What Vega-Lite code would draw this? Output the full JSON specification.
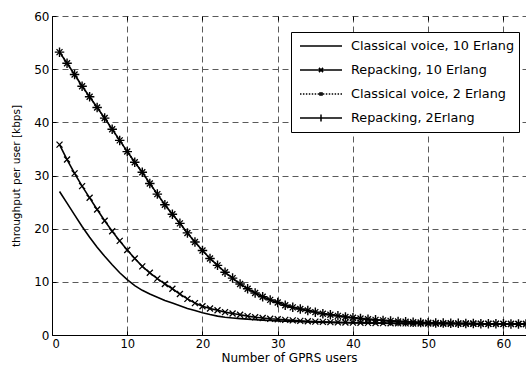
{
  "$schema": "https://vega.github.io/schema/vega-lite/v6.json",
  "autosize": "none",
  "width": 474,
  "height": 319,
  "padding": {"left": 52, "top": 16, "right": 0, "bottom": 31},
  "background": "white",
  "config": {
    "view": {"stroke": null},
    "axis": {
      "labelFont": "DejaVu Sans", "labelFontSize": 12, "labelColor": "black",
      "titleFont": "DejaVu Sans", "titleFontSize": 10.5, "titleFontWeight": "normal", "titleColor": "black",
      "domainColor": "black", "tickColor": "black", "gridColor": "#5a5a5a", "gridDash": [6, 4], "gridOpacity": 1
    }
  },
  "datasets": {
    "curves": [
      {"s":"Classical voice, 10 Erlang","x":1,"y":27.0},{"s":"Classical voice, 10 Erlang","x":2,"y":24.8},{"s":"Classical voice, 10 Erlang","x":3,"y":22.6},{"s":"Classical voice, 10 Erlang","x":4,"y":20.4},{"s":"Classical voice, 10 Erlang","x":5,"y":18.4},{"s":"Classical voice, 10 Erlang","x":6,"y":16.5},{"s":"Classical voice, 10 Erlang","x":7,"y":14.8},{"s":"Classical voice, 10 Erlang","x":8,"y":13.2},{"s":"Classical voice, 10 Erlang","x":9,"y":11.7},{"s":"Classical voice, 10 Erlang","x":10,"y":10.4},
      {"s":"Classical voice, 10 Erlang","x":11,"y":9.3},{"s":"Classical voice, 10 Erlang","x":12,"y":8.4},{"s":"Classical voice, 10 Erlang","x":13,"y":7.7},{"s":"Classical voice, 10 Erlang","x":14,"y":7.1},{"s":"Classical voice, 10 Erlang","x":15,"y":6.5},{"s":"Classical voice, 10 Erlang","x":16,"y":6.0},{"s":"Classical voice, 10 Erlang","x":17,"y":5.5},{"s":"Classical voice, 10 Erlang","x":18,"y":5.0},{"s":"Classical voice, 10 Erlang","x":19,"y":4.6},{"s":"Classical voice, 10 Erlang","x":20,"y":4.2},
      {"s":"Classical voice, 10 Erlang","x":21,"y":3.85},{"s":"Classical voice, 10 Erlang","x":22,"y":3.55},{"s":"Classical voice, 10 Erlang","x":23,"y":3.35},{"s":"Classical voice, 10 Erlang","x":24,"y":3.2},{"s":"Classical voice, 10 Erlang","x":25,"y":3.08},{"s":"Classical voice, 10 Erlang","x":26,"y":2.98},{"s":"Classical voice, 10 Erlang","x":27,"y":2.88},{"s":"Classical voice, 10 Erlang","x":28,"y":2.8},{"s":"Classical voice, 10 Erlang","x":29,"y":2.72},{"s":"Classical voice, 10 Erlang","x":30,"y":2.65},
      {"s":"Classical voice, 10 Erlang","x":31,"y":2.6},{"s":"Classical voice, 10 Erlang","x":32,"y":2.55},{"s":"Classical voice, 10 Erlang","x":33,"y":2.5},{"s":"Classical voice, 10 Erlang","x":34,"y":2.46},{"s":"Classical voice, 10 Erlang","x":35,"y":2.42},{"s":"Classical voice, 10 Erlang","x":36,"y":2.38},{"s":"Classical voice, 10 Erlang","x":37,"y":2.35},{"s":"Classical voice, 10 Erlang","x":38,"y":2.32},{"s":"Classical voice, 10 Erlang","x":39,"y":2.3},{"s":"Classical voice, 10 Erlang","x":40,"y":2.28},
      {"s":"Classical voice, 10 Erlang","x":41,"y":2.26},{"s":"Classical voice, 10 Erlang","x":42,"y":2.24},{"s":"Classical voice, 10 Erlang","x":43,"y":2.22},{"s":"Classical voice, 10 Erlang","x":44,"y":2.2},{"s":"Classical voice, 10 Erlang","x":45,"y":2.19},{"s":"Classical voice, 10 Erlang","x":46,"y":2.18},{"s":"Classical voice, 10 Erlang","x":47,"y":2.17},{"s":"Classical voice, 10 Erlang","x":48,"y":2.16},{"s":"Classical voice, 10 Erlang","x":49,"y":2.15},{"s":"Classical voice, 10 Erlang","x":50,"y":2.14},
      {"s":"Classical voice, 10 Erlang","x":51,"y":2.13},{"s":"Classical voice, 10 Erlang","x":52,"y":2.12},{"s":"Classical voice, 10 Erlang","x":53,"y":2.12},{"s":"Classical voice, 10 Erlang","x":54,"y":2.11},{"s":"Classical voice, 10 Erlang","x":55,"y":2.11},{"s":"Classical voice, 10 Erlang","x":56,"y":2.1},{"s":"Classical voice, 10 Erlang","x":57,"y":2.1},{"s":"Classical voice, 10 Erlang","x":58,"y":2.09},{"s":"Classical voice, 10 Erlang","x":59,"y":2.09},{"s":"Classical voice, 10 Erlang","x":60,"y":2.09},
      {"s":"Classical voice, 10 Erlang","x":61,"y":2.08},{"s":"Classical voice, 10 Erlang","x":62,"y":2.08},{"s":"Classical voice, 10 Erlang","x":63,"y":2.08},

      {"s":"Repacking, 10 Erlang","x":1,"y":35.8},{"s":"Repacking, 10 Erlang","x":2,"y":33.0},{"s":"Repacking, 10 Erlang","x":3,"y":30.4},{"s":"Repacking, 10 Erlang","x":4,"y":28.0},{"s":"Repacking, 10 Erlang","x":5,"y":25.8},{"s":"Repacking, 10 Erlang","x":6,"y":23.6},{"s":"Repacking, 10 Erlang","x":7,"y":21.5},{"s":"Repacking, 10 Erlang","x":8,"y":19.5},{"s":"Repacking, 10 Erlang","x":9,"y":17.7},{"s":"Repacking, 10 Erlang","x":10,"y":16.0},
      {"s":"Repacking, 10 Erlang","x":11,"y":14.4},{"s":"Repacking, 10 Erlang","x":12,"y":12.9},{"s":"Repacking, 10 Erlang","x":13,"y":11.7},{"s":"Repacking, 10 Erlang","x":14,"y":10.6},{"s":"Repacking, 10 Erlang","x":15,"y":9.6},{"s":"Repacking, 10 Erlang","x":16,"y":8.7},{"s":"Repacking, 10 Erlang","x":17,"y":7.7},{"s":"Repacking, 10 Erlang","x":18,"y":6.8},{"s":"Repacking, 10 Erlang","x":19,"y":6.0},{"s":"Repacking, 10 Erlang","x":20,"y":5.4},
      {"s":"Repacking, 10 Erlang","x":21,"y":5.0},{"s":"Repacking, 10 Erlang","x":22,"y":4.65},{"s":"Repacking, 10 Erlang","x":23,"y":4.3},{"s":"Repacking, 10 Erlang","x":24,"y":4.05},{"s":"Repacking, 10 Erlang","x":25,"y":3.8},{"s":"Repacking, 10 Erlang","x":26,"y":3.55},{"s":"Repacking, 10 Erlang","x":27,"y":3.35},{"s":"Repacking, 10 Erlang","x":28,"y":3.2},{"s":"Repacking, 10 Erlang","x":29,"y":3.05},{"s":"Repacking, 10 Erlang","x":30,"y":2.95},
      {"s":"Repacking, 10 Erlang","x":31,"y":2.85},{"s":"Repacking, 10 Erlang","x":32,"y":2.75},{"s":"Repacking, 10 Erlang","x":33,"y":2.65},{"s":"Repacking, 10 Erlang","x":34,"y":2.58},{"s":"Repacking, 10 Erlang","x":35,"y":2.52},{"s":"Repacking, 10 Erlang","x":36,"y":2.47},{"s":"Repacking, 10 Erlang","x":37,"y":2.42},{"s":"Repacking, 10 Erlang","x":38,"y":2.38},{"s":"Repacking, 10 Erlang","x":39,"y":2.35},{"s":"Repacking, 10 Erlang","x":40,"y":2.32},
      {"s":"Repacking, 10 Erlang","x":41,"y":2.3},{"s":"Repacking, 10 Erlang","x":42,"y":2.28},{"s":"Repacking, 10 Erlang","x":43,"y":2.26},{"s":"Repacking, 10 Erlang","x":44,"y":2.24},{"s":"Repacking, 10 Erlang","x":45,"y":2.22},{"s":"Repacking, 10 Erlang","x":46,"y":2.2},{"s":"Repacking, 10 Erlang","x":47,"y":2.18},{"s":"Repacking, 10 Erlang","x":48,"y":2.17},{"s":"Repacking, 10 Erlang","x":49,"y":2.16},{"s":"Repacking, 10 Erlang","x":50,"y":2.15},
      {"s":"Repacking, 10 Erlang","x":51,"y":2.14},{"s":"Repacking, 10 Erlang","x":52,"y":2.13},{"s":"Repacking, 10 Erlang","x":53,"y":2.12},{"s":"Repacking, 10 Erlang","x":54,"y":2.12},{"s":"Repacking, 10 Erlang","x":55,"y":2.11},{"s":"Repacking, 10 Erlang","x":56,"y":2.11},{"s":"Repacking, 10 Erlang","x":57,"y":2.1},{"s":"Repacking, 10 Erlang","x":58,"y":2.1},{"s":"Repacking, 10 Erlang","x":59,"y":2.09},{"s":"Repacking, 10 Erlang","x":60,"y":2.09},
      {"s":"Repacking, 10 Erlang","x":61,"y":2.08},{"s":"Repacking, 10 Erlang","x":62,"y":2.08},{"s":"Repacking, 10 Erlang","x":63,"y":2.08},

      {"s":"Classical voice, 2 Erlang","x":1,"y":53.2},{"s":"Classical voice, 2 Erlang","x":2,"y":51.1},{"s":"Classical voice, 2 Erlang","x":3,"y":49.0},{"s":"Classical voice, 2 Erlang","x":4,"y":46.8},{"s":"Classical voice, 2 Erlang","x":5,"y":44.8},{"s":"Classical voice, 2 Erlang","x":6,"y":42.8},{"s":"Classical voice, 2 Erlang","x":7,"y":40.8},{"s":"Classical voice, 2 Erlang","x":8,"y":38.7},{"s":"Classical voice, 2 Erlang","x":9,"y":36.6},{"s":"Classical voice, 2 Erlang","x":10,"y":34.5},
      {"s":"Classical voice, 2 Erlang","x":11,"y":32.5},{"s":"Classical voice, 2 Erlang","x":12,"y":30.6},{"s":"Classical voice, 2 Erlang","x":13,"y":28.5},{"s":"Classical voice, 2 Erlang","x":14,"y":26.5},{"s":"Classical voice, 2 Erlang","x":15,"y":24.5},{"s":"Classical voice, 2 Erlang","x":16,"y":22.7},{"s":"Classical voice, 2 Erlang","x":17,"y":21.0},{"s":"Classical voice, 2 Erlang","x":18,"y":19.2},{"s":"Classical voice, 2 Erlang","x":19,"y":17.5},{"s":"Classical voice, 2 Erlang","x":20,"y":15.9},
      {"s":"Classical voice, 2 Erlang","x":21,"y":14.4},{"s":"Classical voice, 2 Erlang","x":22,"y":13.1},{"s":"Classical voice, 2 Erlang","x":23,"y":11.8},{"s":"Classical voice, 2 Erlang","x":24,"y":10.7},{"s":"Classical voice, 2 Erlang","x":25,"y":9.6},{"s":"Classical voice, 2 Erlang","x":26,"y":8.7},{"s":"Classical voice, 2 Erlang","x":27,"y":7.9},{"s":"Classical voice, 2 Erlang","x":28,"y":7.2},{"s":"Classical voice, 2 Erlang","x":29,"y":6.6},{"s":"Classical voice, 2 Erlang","x":30,"y":6.1},
      {"s":"Classical voice, 2 Erlang","x":31,"y":5.6},{"s":"Classical voice, 2 Erlang","x":32,"y":5.2},{"s":"Classical voice, 2 Erlang","x":33,"y":4.9},{"s":"Classical voice, 2 Erlang","x":34,"y":4.6},{"s":"Classical voice, 2 Erlang","x":35,"y":4.3},{"s":"Classical voice, 2 Erlang","x":36,"y":4.0},{"s":"Classical voice, 2 Erlang","x":37,"y":3.8},{"s":"Classical voice, 2 Erlang","x":38,"y":3.6},{"s":"Classical voice, 2 Erlang","x":39,"y":3.4},{"s":"Classical voice, 2 Erlang","x":40,"y":3.25},
      {"s":"Classical voice, 2 Erlang","x":41,"y":3.1},{"s":"Classical voice, 2 Erlang","x":42,"y":2.95},{"s":"Classical voice, 2 Erlang","x":43,"y":2.85},{"s":"Classical voice, 2 Erlang","x":44,"y":2.75},{"s":"Classical voice, 2 Erlang","x":45,"y":2.65},{"s":"Classical voice, 2 Erlang","x":46,"y":2.55},{"s":"Classical voice, 2 Erlang","x":47,"y":2.48},{"s":"Classical voice, 2 Erlang","x":48,"y":2.42},{"s":"Classical voice, 2 Erlang","x":49,"y":2.36},{"s":"Classical voice, 2 Erlang","x":50,"y":2.3},
      {"s":"Classical voice, 2 Erlang","x":51,"y":2.27},{"s":"Classical voice, 2 Erlang","x":52,"y":2.24},{"s":"Classical voice, 2 Erlang","x":53,"y":2.21},{"s":"Classical voice, 2 Erlang","x":54,"y":2.19},{"s":"Classical voice, 2 Erlang","x":55,"y":2.17},{"s":"Classical voice, 2 Erlang","x":56,"y":2.15},{"s":"Classical voice, 2 Erlang","x":57,"y":2.13},{"s":"Classical voice, 2 Erlang","x":58,"y":2.12},{"s":"Classical voice, 2 Erlang","x":59,"y":2.11},{"s":"Classical voice, 2 Erlang","x":60,"y":2.1},
      {"s":"Classical voice, 2 Erlang","x":61,"y":2.09},{"s":"Classical voice, 2 Erlang","x":62,"y":2.08},{"s":"Classical voice, 2 Erlang","x":63,"y":2.08},

      {"s":"Repacking, 2Erlang","x":1,"y":53.2},{"s":"Repacking, 2Erlang","x":2,"y":51.1},{"s":"Repacking, 2Erlang","x":3,"y":49.0},{"s":"Repacking, 2Erlang","x":4,"y":46.8},{"s":"Repacking, 2Erlang","x":5,"y":44.8},{"s":"Repacking, 2Erlang","x":6,"y":42.8},{"s":"Repacking, 2Erlang","x":7,"y":40.8},{"s":"Repacking, 2Erlang","x":8,"y":38.7},{"s":"Repacking, 2Erlang","x":9,"y":36.6},{"s":"Repacking, 2Erlang","x":10,"y":34.5},
      {"s":"Repacking, 2Erlang","x":11,"y":32.5},{"s":"Repacking, 2Erlang","x":12,"y":30.6},{"s":"Repacking, 2Erlang","x":13,"y":28.5},{"s":"Repacking, 2Erlang","x":14,"y":26.5},{"s":"Repacking, 2Erlang","x":15,"y":24.5},{"s":"Repacking, 2Erlang","x":16,"y":22.7},{"s":"Repacking, 2Erlang","x":17,"y":21.0},{"s":"Repacking, 2Erlang","x":18,"y":19.2},{"s":"Repacking, 2Erlang","x":19,"y":17.5},{"s":"Repacking, 2Erlang","x":20,"y":15.9},
      {"s":"Repacking, 2Erlang","x":21,"y":14.4},{"s":"Repacking, 2Erlang","x":22,"y":13.1},{"s":"Repacking, 2Erlang","x":23,"y":11.8},{"s":"Repacking, 2Erlang","x":24,"y":10.7},{"s":"Repacking, 2Erlang","x":25,"y":9.6},{"s":"Repacking, 2Erlang","x":26,"y":8.7},{"s":"Repacking, 2Erlang","x":27,"y":7.9},{"s":"Repacking, 2Erlang","x":28,"y":7.2},{"s":"Repacking, 2Erlang","x":29,"y":6.6},{"s":"Repacking, 2Erlang","x":30,"y":6.1},
      {"s":"Repacking, 2Erlang","x":31,"y":5.6},{"s":"Repacking, 2Erlang","x":32,"y":5.2},{"s":"Repacking, 2Erlang","x":33,"y":4.9},{"s":"Repacking, 2Erlang","x":34,"y":4.6},{"s":"Repacking, 2Erlang","x":35,"y":4.3},{"s":"Repacking, 2Erlang","x":36,"y":4.0},{"s":"Repacking, 2Erlang","x":37,"y":3.8},{"s":"Repacking, 2Erlang","x":38,"y":3.6},{"s":"Repacking, 2Erlang","x":39,"y":3.4},{"s":"Repacking, 2Erlang","x":40,"y":3.25},
      {"s":"Repacking, 2Erlang","x":41,"y":3.1},{"s":"Repacking, 2Erlang","x":42,"y":2.95},{"s":"Repacking, 2Erlang","x":43,"y":2.85},{"s":"Repacking, 2Erlang","x":44,"y":2.75},{"s":"Repacking, 2Erlang","x":45,"y":2.65},{"s":"Repacking, 2Erlang","x":46,"y":2.55},{"s":"Repacking, 2Erlang","x":47,"y":2.48},{"s":"Repacking, 2Erlang","x":48,"y":2.42},{"s":"Repacking, 2Erlang","x":49,"y":2.36},{"s":"Repacking, 2Erlang","x":50,"y":2.3},
      {"s":"Repacking, 2Erlang","x":51,"y":2.27},{"s":"Repacking, 2Erlang","x":52,"y":2.24},{"s":"Repacking, 2Erlang","x":53,"y":2.21},{"s":"Repacking, 2Erlang","x":54,"y":2.19},{"s":"Repacking, 2Erlang","x":55,"y":2.17},{"s":"Repacking, 2Erlang","x":56,"y":2.15},{"s":"Repacking, 2Erlang","x":57,"y":2.13},{"s":"Repacking, 2Erlang","x":58,"y":2.12},{"s":"Repacking, 2Erlang","x":59,"y":2.11},{"s":"Repacking, 2Erlang","x":60,"y":2.1},
      {"s":"Repacking, 2Erlang","x":61,"y":2.09},{"s":"Repacking, 2Erlang","x":62,"y":2.08},{"s":"Repacking, 2Erlang","x":63,"y":2.08}
    ]
  },
  "data": {"name": "curves"},
  "resolve": {"axis": {"x": "independent"}},
  "layer": [
    {
      "transform": [{"filter": "datum.s === 'Classical voice, 2 Erlang'"}],
      "mark": {"type": "line", "color": "black", "strokeWidth": 1.5, "strokeDash": [1.5, 2], "clip": true},
      "encoding": {
        "x": {"field": "x", "type": "quantitative", "scale": {"domain": [0, 63], "nice": false, "zero": false},
          "axis": {"orient": "bottom", "values": [0, 10, 20, 30, 40, 50, 60], "grid": true, "tickSize": -4, "labelPadding": 7, "labelFontSize": 11.5, "title": "Number of GPRS users", "titleFontSize": 12, "titlePadding": 3}},
        "y": {"field": "y", "type": "quantitative", "scale": {"domain": [0, 60], "nice": false},
          "axis": {"values": [0, 10, 20, 30, 40, 50, 60], "grid": true, "tickSize": -4, "labelPadding": 7, "title": "throughput per user [kbps]", "titlePadding": 12}}
      }
    },
    {
      "transform": [{"filter": "datum.s !== 'Classical voice, 2 Erlang'"}],
      "mark": {"type": "line", "color": "black", "strokeWidth": 1.6, "clip": true},
      "encoding": {
        "x": {"field": "x", "type": "quantitative", "axis": {"orient": "top", "grid": false, "labels": false, "domain": false, "values": [0, 10, 20, 30, 40, 50, 60], "tickSize": -4, "title": null}},
        "y": {"field": "y", "type": "quantitative"},
        "detail": {"field": "s"}
      }
    },
    {
      "transform": [{"filter": "datum.s === 'Repacking, 10 Erlang'"}],
      "mark": {"type": "point", "shape": "M-1,-1L1,1M-1,1L1,-1", "size": 36, "filled": false, "stroke": "black", "strokeWidth": 1.3, "opacity": 1},
      "encoding": {
        "x": {"field": "x", "type": "quantitative", "axis": null},
        "y": {"field": "y", "type": "quantitative"}
      }
    },
    {
      "transform": [{"filter": "datum.s === 'Classical voice, 2 Erlang'"}],
      "mark": {"type": "point", "shape": "M-1,-1L1,1M-1,1L1,-1", "size": 36, "filled": false, "stroke": "black", "strokeWidth": 1.3, "opacity": 1},
      "encoding": {
        "x": {"field": "x", "type": "quantitative", "axis": null},
        "y": {"field": "y", "type": "quantitative"}
      }
    },
    {
      "transform": [{"filter": "datum.s === 'Repacking, 2Erlang'"}],
      "mark": {"type": "point", "shape": "M-1,0H1M0,-1V1", "size": 90, "filled": false, "stroke": "black", "strokeWidth": 1.4, "opacity": 1},
      "encoding": {
        "x": {"field": "x", "type": "quantitative", "axis": null},
        "y": {"field": "y", "type": "quantitative"}
      }
    },
    {
      "mark": {"type": "point", "size": 1764, "filled": false, "stroke": "black", "strokeWidth": 1.5, "opacity": 0},
      "encoding": {
        "x": {"field": "x", "type": "quantitative", "axis": null},
        "y": {"field": "y", "type": "quantitative"},
        "shape": {
          "field": "s", "type": "nominal",
          "scale": {
            "domain": ["Classical voice, 10 Erlang", "Repacking, 10 Erlang", "Classical voice, 2 Erlang", "Repacking, 2Erlang"],
            "range": [
              "M-1,0H1",
              "M-1,0H1M-0.1,-0.1L0.1,0.1M-0.1,0.1L0.1,-0.1",
              "M-1,0H-0.93M-0.86,0H-0.79M-0.72,0H-0.65M-0.58,0H-0.51M-0.44,0H-0.37M-0.3,0H-0.23M-0.16,0H-0.09M0.09,0H0.16M0.23,0H0.3M0.37,0H0.44M0.51,0H0.58M0.65,0H0.72M0.79,0H0.86M0.93,0H1M-0.05,-0.05H0.05V0.05H-0.05Z",
              "M-1,0H1M0,-0.17V0.17"
            ]
          },
          "legend": {
            "orient": "none", "legendX": 239, "legendY": 16, "title": null,
            "strokeColor": "black", "fillColor": "white", "padding": 4,
            "clipHeight": 20, "rowPadding": 4,
            "symbolSize": 1764, "symbolStrokeColor": "black", "symbolStrokeWidth": 1.5, "symbolOpacity": 1, "symbolFillColor": "transparent",
            "symbolOffset": 4, "labelOffset": 8,
            "labelFont": "DejaVu Sans", "labelFontSize": 12.8, "labelColor": "black", "labelLimit": 300
          }
        }
      }
    }
  ]
}
